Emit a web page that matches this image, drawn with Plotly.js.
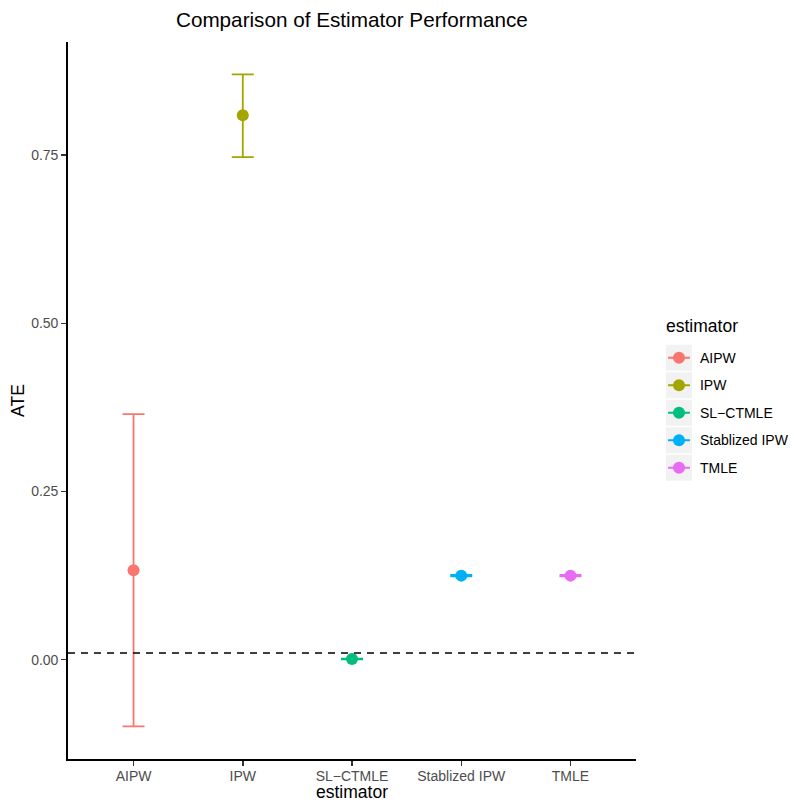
<!DOCTYPE html>
<html>
<head>
<meta charset="utf-8">
<script src="https://cdn.plot.ly/plotly-3.0.1.min.js"></script>
<style>html,body{margin:0;padding:0;background:#fff;}#chart{width:794px;height:802px;}</style>
</head>
<body>
<div id="chart"></div>
<script>
// ---- data ----
const estimators = ["AIPW", "IPW", "SL\u2212CTMLE", "Stablized IPW", "TMLE"];
const ate   = [0.133, 0.809, 0.001, 0.125, 0.125];
const lower = [-0.099, 0.747, 0.0005, 0.124, 0.124];
const upper = [0.365, 0.870, 0.0015, 0.126, 0.126];
const trueATE = 0.01;
const colors = ["#F8766D", "#A3A500", "#00BF7D", "#00B0F6", "#E76BF3"];
const yTicks = [0, 0.25, 0.5, 0.75];
const yTickText = ["0.00", "0.25", "0.50", "0.75"];

const FONT = "Liberation Sans, Arial, Helvetica, sans-serif";
const traces = [];
estimators.forEach((e, i) => {
  traces.push({
    type: "scatter", mode: "markers",
    x: [e], y: [ate[i]],
    xaxis: "x", yaxis: "y",
    marker: {color: colors[i], size: 12},
    error_y: {type: "data", symmetric: false,
      array: [upper[i] - ate[i]], arrayminus: [ate[i] - lower[i]],
      color: colors[i], thickness: 1.8, width: 11},
    showlegend: false, hoverinfo: "skip"
  });
});
// legend keys drawn on a helper subplot
estimators.forEach((e, i) => {
  traces.push({
    type: "scatter", mode: "markers",
    x: [0.5], y: [i],
    xaxis: "x2", yaxis: "y2",
    marker: {color: colors[i], size: 12},
    error_x: {type: "constant", value: 0.42, color: colors[i], thickness: 1.8, width: 0},
    showlegend: false, hoverinfo: "skip"
  });
});

const shapes = [{
  type: "line", xref: "paper", yref: "y", x0: 0, x1: 0.7824, y0: trueATE, y1: trueATE,
  line: {color: "#000000", width: 1.6, dash: "7px,6px"}, layer: "above"
}];
estimators.forEach((e, i) => {
  shapes.push({type: "rect", xref: "x2", yref: "y2", x0: 0, x1: 1, y0: i - 0.47, y1: i + 0.47,
    fillcolor: "#F2F2F2", line: {width: 0}, layer: "below"});
});

const layout = {
  width: 794, height: 802,
  margin: {l: 68, r: 0, t: 42, b: 43},
  paper_bgcolor: "#ffffff", plot_bgcolor: "rgba(0,0,0,0)",
  font: {family: FONT, color: "#000000"},
  title: {text: "Comparison of Estimator Performance", font: {size: 20.7, color: "#000000", family: FONT},
    xref: "paper", x: 0.391, xanchor: "center", yref: "container", y: 1 - 20 / 802, yanchor: "middle"},
  showlegend: false,
  xaxis: {
    domain: [0, 0.7824], type: "category", categoryorder: "array", categoryarray: estimators,
    range: [-0.6, 4.6], showgrid: false, zeroline: false, automargin: false,
    showline: true, linecolor: "#000000", linewidth: 1.8,
    ticks: "outside", ticklen: 5, tickwidth: 1.5, tickcolor: "#333333",
    ticklabelstandoff: -2,
    tickfont: {size: 14, color: "#4D4D4D", family: FONT},
    title: {text: "estimator", font: {size: 17.5, color: "#000000", family: FONT}, standoff: 2}
  },
  yaxis: {
    range: [-0.1475, 0.918], showgrid: false, zeroline: false, automargin: false,
    showline: true, linecolor: "#000000", linewidth: 1.8,
    ticks: "outside", ticklen: 5, tickwidth: 1.5, tickcolor: "#333333",
    tickvals: yTicks, ticktext: yTickText,
    tickfont: {size: 14, color: "#4D4D4D", family: FONT},
    title: {text: "ATE", font: {size: 17.5, color: "#000000", family: FONT}, standoff: 2}
  },
  xaxis2: {domain: [0.8237, 0.8595], range: [0, 1], anchor: "y2", visible: false, fixedrange: true},
  yaxis2: {domain: [0.387, 0.5788], range: [4.5, -0.5], anchor: "x2", side: "right",
    showgrid: false, zeroline: false, showline: false, ticks: "", automargin: false,
    tickvals: [0, 1, 2, 3, 4], ticktext: estimators, ticklabelstandoff: 7,
    tickfont: {size: 14, color: "#000000", family: FONT}},
  annotations: [{
    text: "estimator", xref: "x2", yref: "paper", x: 0, y: (759 - 326) / 717,
    xanchor: "left", yanchor: "middle", showarrow: false, xshift: -2,
    font: {size: 17.5, color: "#000000", family: FONT}
  }],
  shapes: shapes
};

Plotly.newPlot("chart", traces, layout, {staticPlot: true, displayModeBar: false});
</script>
</body>
</html>
